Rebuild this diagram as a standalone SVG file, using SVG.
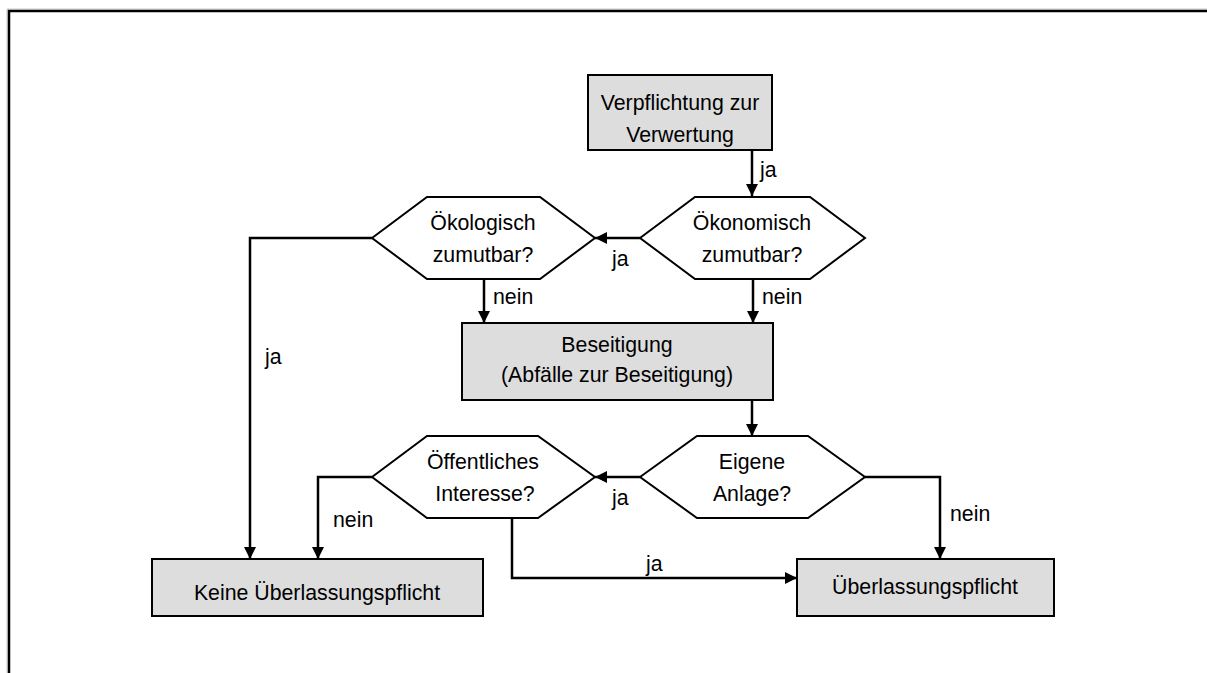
<svg xmlns="http://www.w3.org/2000/svg" width="1207" height="673" viewBox="0 0 1207 673">
  <defs>
    <marker id="arrow" viewBox="0 0 12 12" refX="12" refY="6" markerWidth="12" markerHeight="12" markerUnits="userSpaceOnUse" orient="auto">
      <path d="M0,0 L12,6 L0,12 Z" fill="#000"/>
    </marker>
    <style>
      .box { fill: #dddddd; stroke: #000; stroke-width: 2; }
      .hex { fill: #ffffff; stroke: #000; stroke-width: 2; }
      .conn { fill: none; stroke: #000; stroke-width: 2.5; marker-end: url(#arrow); }
      .t { font-family: "Liberation Sans", Arial, sans-serif; font-size: 21.3px; fill: #000; }
      .c { text-anchor: middle; }
    </style>
  </defs>

  <rect width="1207" height="673" fill="#ffffff"/>

  <!-- page frame -->
  <g id="frame">
    <path d="M7,673 V9 H1207" fill="none" stroke="#c8c8c8" stroke-width="1"/>
    <path d="M9,673 V11 H1207" fill="none" stroke="#000" stroke-width="2.5"/>
  </g>

  <!-- connectors -->
  <g id="connectors">
    <path class="conn" d="M752,151 V196"/>
    <path class="conn" d="M640,238 H595"/>
    <path class="conn" d="M484,279 V323"/>
    <path class="conn" d="M753,279 V323"/>
    <path class="conn" d="M372,238 H250 V559"/>
    <path class="conn" d="M752,400 V436"/>
    <path class="conn" d="M640,477 H595"/>
    <path class="conn" d="M372,477 H318 V559"/>
    <path class="conn" d="M512,518 V578 H797"/>
    <path class="conn" d="M865,477 H940 V559"/>
  </g>

  <!-- connector labels -->
  <g id="labels">
    <text class="t" x="760" y="177">ja</text>
    <text class="t" x="612" y="266">ja</text>
    <text class="t" x="493" y="304">nein</text>
    <text class="t" x="762" y="304">nein</text>
    <text class="t" x="265" y="364">ja</text>
    <text class="t" x="612" y="505">ja</text>
    <text class="t" x="333" y="527">nein</text>
    <text class="t" x="950" y="521">nein</text>
    <text class="t" x="646" y="571">ja</text>
  </g>

  <g id="verpflichtung">
    <rect class="box" x="588" y="75" width="184" height="75"/>
    <text class="t c" x="680" y="110">Verpflichtung zur</text>
    <text class="t c" x="680" y="142">Verwertung</text>
  </g>

  <g id="oekonomisch">
    <polygon class="hex" points="640,238 695,197 810,197 865,238 810,279 695,279"/>
    <text class="t c" x="752" y="230">Ökonomisch</text>
    <text class="t c" x="752" y="262">zumutbar?</text>
  </g>

  <g id="oekologisch">
    <polygon class="hex" points="372,238 427,197 540,197 595,238 540,279 427,279"/>
    <text class="t c" x="483" y="230">Ökologisch</text>
    <text class="t c" x="483" y="262">zumutbar?</text>
  </g>

  <g id="beseitigung">
    <rect class="box" x="462" y="323" width="311" height="77"/>
    <text class="t c" x="617" y="352">Beseitigung</text>
    <text class="t c" x="617" y="382">(Abfälle zur Beseitigung)</text>
  </g>

  <g id="eigene-anlage">
    <polygon class="hex" points="640,477 697,436 808,436 865,477 808,518 697,518"/>
    <text class="t c" x="752" y="469">Eigene</text>
    <text class="t c" x="752" y="501">Anlage?</text>
  </g>

  <g id="oeffentliches-interesse">
    <polygon class="hex" points="372,477 427,436 538,436 595,477 538,518 427,518"/>
    <text class="t c" x="483" y="469">Öffentliches</text>
    <text class="t c" x="485" y="501">Interesse?</text>
  </g>

  <g id="keine-ueberlassungspflicht">
    <rect class="box" x="152" y="559" width="331" height="57"/>
    <text class="t c" x="317" y="600">Keine Überlassungspflicht</text>
  </g>

  <g id="ueberlassungspflicht">
    <rect class="box" x="797" y="559" width="257" height="57"/>
    <text class="t c" x="925" y="594">Überlassungspflicht</text>
  </g>
</svg>
